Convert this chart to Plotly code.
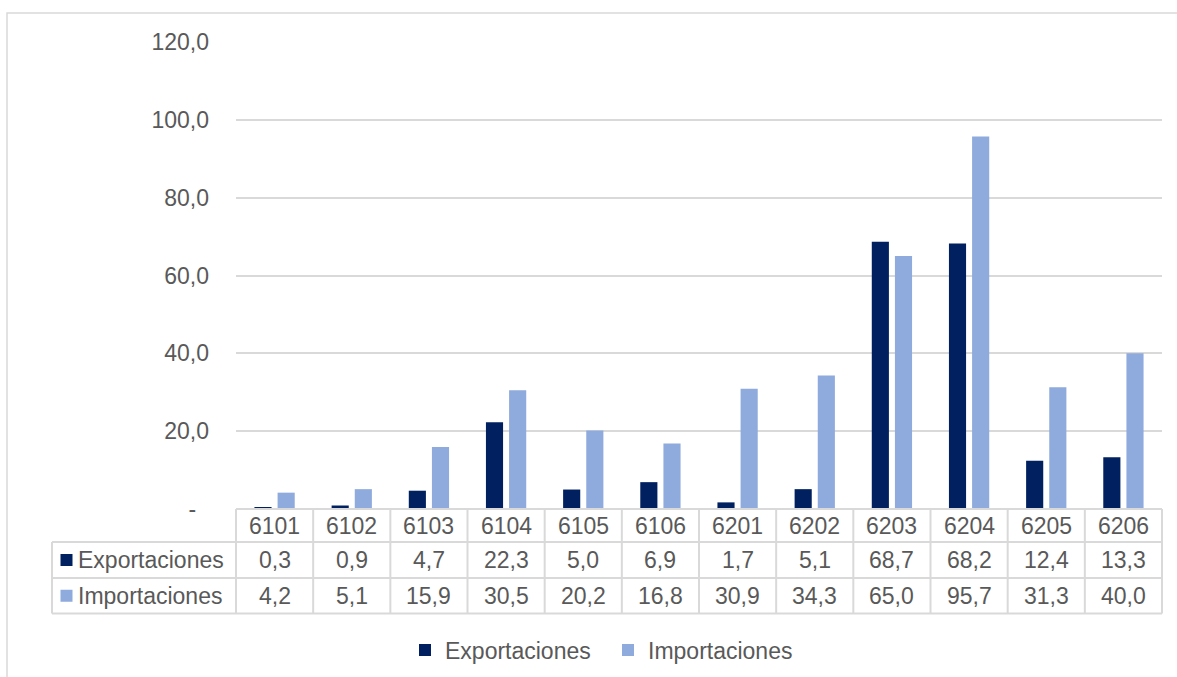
import plotly.graph_objects as go

# Partidas arancelarias y valores (millones)
categorias = ["6101", "6102", "6103", "6104", "6105", "6106",
              "6201", "6202", "6203", "6204", "6205", "6206"]
exportaciones = [0.3, 0.9, 4.7, 22.3, 5.0, 6.9, 1.7, 5.1, 68.7, 68.2, 12.4, 13.3]
importaciones = [4.2, 5.1, 15.9, 30.5, 20.2, 16.8, 30.9, 34.3, 65.0, 95.7, 31.3, 40.0]
series = [("Exportaciones", exportaciones, "#002060"),
          ("Importaciones", importaciones, "#8FAADC")]
ticks_y = [0, 20, 40, 60, 80, 100, 120]

W, H = 1177, 677
ML, MR, MT, MB = 236, 15, 42, 168
PW, PH = W - ML - MR, H - MT - MB
FONT = "Liberation Sans, Arial, sans-serif"
TXT = "#595959"
GRID = "#D9D9D9"


def fmt(v):
    return "-\u00a0\u00a0" if v == 0 else f"{v:.1f}".replace(".", ",")


def px_x(px):
    # pixel column -> paper x
    return (px - ML) / PW


def px_y(py):
    # pixel row -> paper y
    return (H - MB - py) / PH


fig = go.Figure()
for nombre, valores, color in series:
    fig.add_trace(go.Bar(x=categorias, y=valores, name=nombre,
                         marker=dict(color=color, line=dict(width=0))))

# Table geometry (pixel rows of the data table under the axis)
row_edges = [H - MB, 542, 578, 613.5]
row_mid = [(row_edges[k] + row_edges[k + 1]) / 2 for k in range(3)]
label_left = 52

shapes = []
line = dict(color=GRID, width=2)
n = len(categorias)
# horizontal rules
shapes.append(dict(type="line", xref="paper", yref="paper", x0=0, x1=1,
                   y0=0, y1=0, line=line, layer="above"))
for e in row_edges[1:]:
    shapes.append(dict(type="line", xref="paper", yref="paper",
                       x0=px_x(label_left), x1=1, y0=px_y(e), y1=px_y(e), line=line))
# vertical rules
for i in range(n + 1):
    shapes.append(dict(type="line", xref="x domain", yref="paper",
                       x0=i / n, x1=i / n, y0=0, y1=px_y(row_edges[3]), line=line))
shapes.append(dict(type="line", xref="paper", yref="paper",
                   x0=px_x(label_left), x1=px_x(label_left),
                   y0=px_y(row_edges[1]), y1=px_y(row_edges[3]), line=line))
# colour keys in the row headers
for k, (nombre, valores, color) in enumerate(series):
    cy = row_mid[k + 1]
    shapes.append(dict(type="rect", xref="paper", yref="paper",
                       x0=px_x(60.5), x1=px_x(72.5), y0=px_y(cy - 6), y1=px_y(cy + 6),
                       fillcolor=color, line=dict(width=0)))
# outer chart border
shapes.append(dict(type="rect", xref="paper", yref="paper",
                   x0=px_x(7), x1=px_x(1185), y0=px_y(13), y1=px_y(690),
                   line=dict(color=GRID, width=1.5)))

annotations = []
font = dict(family=FONT, size=23, color=TXT)
for i, c in enumerate(categorias):
    # category index as position on the category axis
    annotations.append(dict(x=i, xref="x", y=px_y(row_mid[0]), yref="paper",
                            text=c, showarrow=False, font=font,
                            xanchor="center", yanchor="middle"))
    for k, (nombre, valores, color) in enumerate(series):
        annotations.append(dict(x=i, xref="x", y=px_y(row_mid[k + 1]), yref="paper",
                                text=fmt(valores[i]), showarrow=False, font=font,
                                xanchor="center", yanchor="middle"))
for k, (nombre, valores, color) in enumerate(series):
    annotations.append(dict(x=px_x(76), xref="paper", y=px_y(row_mid[k + 1]), yref="paper",
                            text=nombre, showarrow=False, font=font,
                            xanchor="left", yanchor="middle"))

fig.update_layout(
    width=W, height=H,
    margin=dict(l=ML, r=MR, t=MT, b=MB, pad=0, autoexpand=False),
    paper_bgcolor="white", plot_bgcolor="white",
    font=dict(family=FONT, size=23, color=TXT),
    barmode="group", bargap=0.40, bargroupgap=0.26,
    showlegend=True,
    legend=dict(orientation="h", x=px_x(405), xanchor="left",
                y=px_y(650), yanchor="middle",
                font=dict(family=FONT, size=23, color=TXT),
                entrywidth=158, entrywidthmode="pixels",
                bgcolor="rgba(0,0,0,0)"),
    xaxis=dict(type="category", categoryorder="array", categoryarray=categorias,
               range=[-0.5, n - 0.5],
               showticklabels=False, showgrid=False, zeroline=False,
               showline=False, ticks=""),
    yaxis=dict(range=[0, 120], tickvals=ticks_y, ticktext=[fmt(v) for v in ticks_y],
               showgrid=True, gridcolor=GRID, gridwidth=1.5, zeroline=False,
               showline=False, ticks="", ticklabelstandoff=26,
               tickfont=dict(family=FONT, size=23, color=TXT)),
    shapes=shapes, annotations=annotations,
)

fig.write_html("out.html")
